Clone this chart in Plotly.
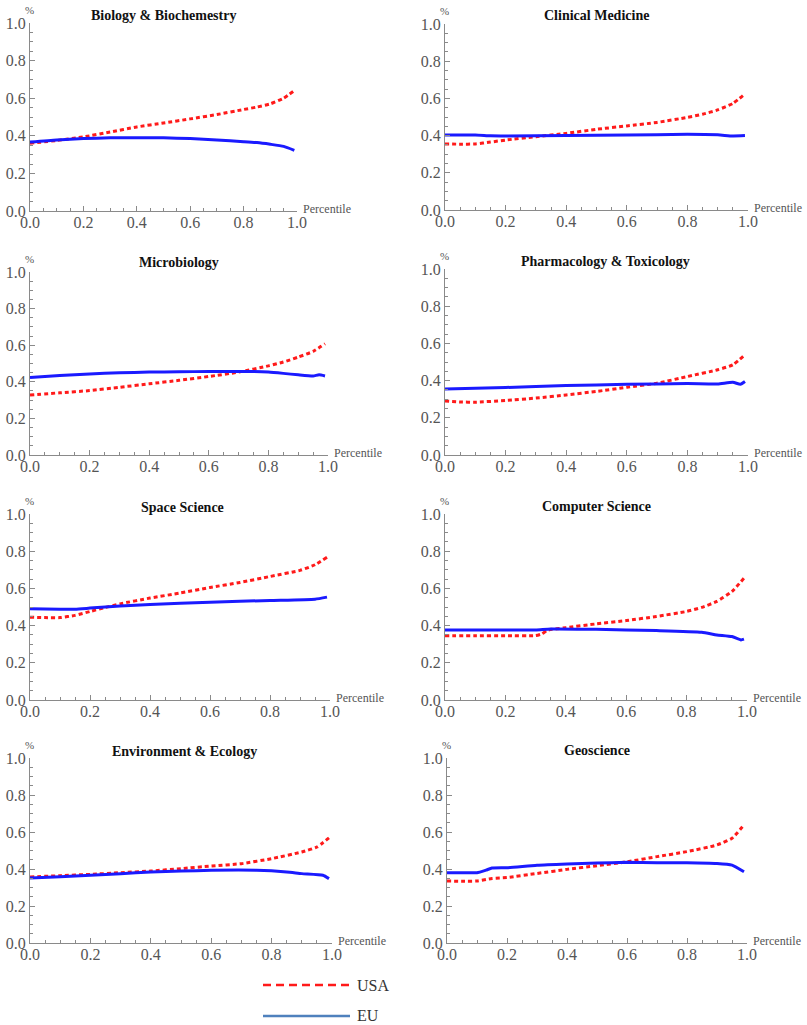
import plotly.graph_objects as go

OFF = 0  # body margin removed by post_script below
W, H = 807, 1025


def px(x):
    return (x - OFF) / W


def py(y):
    return 1 - (y - OFF) / H


titles = ["Biology & Biochemestry", "Clinical Medicine", "Microbiology",
          "Pharmacology & Toxicology", "Space Science", "Computer Science",
          "Environment & Ecology", "Geoscience"]

# ---- data (percentile -> share) ----
bio_usa_x = [0, 0.1, 0.2, 0.3, 0.4, 0.5, 0.6, 0.7, 0.8, 0.85, 0.9, 0.95, 0.99]
bio_usa_y = [0.36, 0.375, 0.394, 0.42, 0.447, 0.468, 0.49, 0.513, 0.54, 0.553, 0.57, 0.6, 0.64]
bio_eu_x = [0, 0.1, 0.2, 0.3, 0.4, 0.5, 0.6, 0.7, 0.8, 0.85, 0.9, 0.95, 0.99]
bio_eu_y = [0.367, 0.378, 0.385, 0.389, 0.39, 0.389, 0.385, 0.378, 0.369, 0.364, 0.355, 0.344, 0.323]

clin_usa_x = [0, 0.05, 0.1, 0.15, 0.2, 0.3, 0.4, 0.5, 0.6, 0.7, 0.8, 0.85, 0.9, 0.95, 0.99]
clin_usa_y = [0.355, 0.354, 0.355, 0.365, 0.376, 0.394, 0.412, 0.434, 0.452, 0.471, 0.498, 0.515, 0.538, 0.573, 0.624]
clin_eu_x = [0, 0.1, 0.15, 0.2, 0.4, 0.6, 0.8, 0.9, 0.95, 0.99]
clin_eu_y = [0.403, 0.403, 0.399, 0.398, 0.4, 0.403, 0.407, 0.404, 0.398, 0.4]

micro_usa_x = [0, 0.1, 0.2, 0.3, 0.4, 0.5, 0.6, 0.7, 0.8, 0.85, 0.9, 0.95, 0.99]
micro_usa_y = [0.328, 0.34, 0.352, 0.37, 0.389, 0.408, 0.429, 0.453, 0.487, 0.508, 0.535, 0.566, 0.608]
micro_eu_x = [0, 0.1, 0.2, 0.3, 0.4, 0.5, 0.6, 0.7, 0.75, 0.8, 0.85, 0.9, 0.95, 0.97, 0.99]
micro_eu_y = [0.423, 0.434, 0.443, 0.449, 0.453, 0.455, 0.456, 0.456, 0.456, 0.453, 0.446, 0.438, 0.432, 0.438, 0.432]

pharm_usa_x = [0, 0.05, 0.1, 0.2, 0.3, 0.4, 0.5, 0.6, 0.7, 0.8, 0.9, 0.95, 0.99]
pharm_usa_y = [0.29, 0.285, 0.284, 0.293, 0.306, 0.323, 0.342, 0.364, 0.386, 0.422, 0.458, 0.485, 0.539]
pharm_eu_x = [0, 0.2, 0.4, 0.6, 0.8, 0.9, 0.95, 0.975, 0.99]
pharm_eu_y = [0.355, 0.363, 0.373, 0.38, 0.384, 0.382, 0.391, 0.38, 0.395]

space_usa_x = [0, 0.05, 0.1, 0.15, 0.2, 0.25, 0.3, 0.4, 0.5, 0.6, 0.7, 0.8, 0.9, 0.95, 0.99]
space_usa_y = [0.445, 0.443, 0.443, 0.455, 0.476, 0.497, 0.517, 0.548, 0.575, 0.605, 0.632, 0.664, 0.697, 0.727, 0.768]
space_eu_x = [0, 0.1, 0.15, 0.2, 0.3, 0.4, 0.6, 0.8, 0.95, 0.99]
space_eu_y = [0.49, 0.488, 0.488, 0.494, 0.506, 0.513, 0.526, 0.535, 0.542, 0.553]

comp_usa_x = [0, 0.1, 0.2, 0.3, 0.32, 0.34, 0.4, 0.5, 0.6, 0.7, 0.8, 0.85, 0.9, 0.95, 0.99]
comp_usa_y = [0.346, 0.346, 0.346, 0.346, 0.355, 0.375, 0.389, 0.409, 0.427, 0.449, 0.476, 0.498, 0.53, 0.583, 0.655]
comp_eu_x = [0, 0.1, 0.2, 0.3, 0.35, 0.5, 0.7, 0.85, 0.9, 0.95, 0.98, 0.99]
comp_eu_y = [0.377, 0.377, 0.377, 0.377, 0.382, 0.38, 0.373, 0.364, 0.35, 0.341, 0.323, 0.327]

env_usa_x = [0, 0.1, 0.2, 0.3, 0.4, 0.5, 0.6, 0.7, 0.8, 0.9, 0.95, 0.99]
env_usa_y = [0.357, 0.364, 0.371, 0.38, 0.389, 0.402, 0.416, 0.429, 0.456, 0.492, 0.519, 0.568]
env_eu_x = [0, 0.1, 0.2, 0.3, 0.4, 0.5, 0.6, 0.75, 0.85, 0.9, 0.97, 0.99]
env_eu_y = [0.351, 0.358, 0.366, 0.375, 0.384, 0.389, 0.393, 0.393, 0.384, 0.375, 0.366, 0.348]

geo_usa_x = [0, 0.05, 0.1, 0.15, 0.2, 0.3, 0.4, 0.5, 0.6, 0.7, 0.8, 0.9, 0.95, 0.99]
geo_usa_y = [0.335, 0.334, 0.335, 0.349, 0.354, 0.376, 0.398, 0.418, 0.439, 0.467, 0.494, 0.53, 0.566, 0.638]
geo_eu_x = [0, 0.05, 0.1, 0.13, 0.15, 0.2, 0.3, 0.4, 0.5, 0.6, 0.7, 0.8, 0.9, 0.95, 0.99]
geo_eu_y = [0.38, 0.38, 0.38, 0.394, 0.405, 0.407, 0.42, 0.427, 0.432, 0.436, 0.434, 0.434, 0.43, 0.421, 0.385]

tick_vals = [0, 0.2, 0.4, 0.6, 0.8, 1.0]
tick_text = ["0.0", "0.2", "0.4", "0.6", "0.8", "1.0"]

series = [
    (bio_usa_x, bio_usa_y, bio_eu_x, bio_eu_y),
    (clin_usa_x, clin_usa_y, clin_eu_x, clin_eu_y),
    (micro_usa_x, micro_usa_y, micro_eu_x, micro_eu_y),
    (pharm_usa_x, pharm_usa_y, pharm_eu_x, pharm_eu_y),
    (space_usa_x, space_usa_y, space_eu_x, space_eu_y),
    (comp_usa_x, comp_usa_y, comp_eu_x, comp_eu_y),
    (env_usa_x, env_usa_y, env_eu_x, env_eu_y),
    (geo_usa_x, geo_usa_y, geo_eu_x, geo_eu_y),
]

# ---- layout geometry (reference pixels): x0, x1, ytop, ybottom ----
boxes = [
    (30, 297, 23, 211), (445, 748, 24, 210),
    (30, 328, 272, 455), (445, 748, 269, 455),
    (30, 330, 514, 700), (445, 747, 514, 700),
    (30, 332, 758, 943), (447, 747, 758, 943),
]
title_pos = [(163, 15), (596, 15), (179, 262), (605, 261),
             (182, 507), (596, 506), (184, 751), (597, 750)]

FONT = "Liberation Serif"
GRAY = "#555555"
AXC = "#8a8a8a"

fig = go.Figure()
layout = dict(width=W, height=H, margin=dict(l=0, r=0, t=0, b=0, autoexpand=False),
              paper_bgcolor="white", plot_bgcolor="white", showlegend=False,
              font=dict(family=FONT, color=GRAY))
annotations = []
shapes = []

for i, ((ux, uy, ex, ey), (x0, x1, yt, yb), title, (tx, ty)) in enumerate(
        zip(series, boxes, titles, title_pos)):
    n = i + 1
    xa = "x" if n == 1 else f"x{n}"
    ya = "y" if n == 1 else f"y{n}"
    fig.add_trace(go.Scatter(x=ux, y=uy, xaxis=xa, yaxis=ya, mode="lines",
                             line=dict(color="#ff1a1a", width=3, dash="4px,3px",
                                       shape="spline", smoothing=0.5),
                             name="USA"))
    fig.add_trace(go.Scatter(x=ex, y=ey, xaxis=xa, yaxis=ya, mode="lines",
                             line=dict(color="#1a1aff", width=3,
                                       shape="spline", smoothing=0.5),
                             name="EU"))
    common = dict(range=[0, 1.0], showline=True, linecolor=AXC, linewidth=1,
                  showgrid=False, zeroline=False, ticks="inside", ticklen=5,
                  tickcolor=AXC, tickvals=tick_vals, ticktext=tick_text,
                  tickfont=dict(family=FONT, size=16, color=GRAY),
                  minor=dict(ticks="inside", dtick=0.05, ticklen=3, tickcolor=AXC),
                  fixedrange=True, automargin=False)
    layout["xaxis" if n == 1 else f"xaxis{n}"] = dict(
        domain=[px(x0), px(x1)], anchor=ya, ticklabelstandoff=-3, **common)
    layout["yaxis" if n == 1 else f"yaxis{n}"] = dict(
        domain=[py(yb), py(yt)], anchor=xa, **common)
    annotations.append(dict(text=f"<b>{title}</b>", x=px(tx), y=py(ty),
                            xref="paper", yref="paper", showarrow=False,
                            xanchor="center", yanchor="middle",
                            font=dict(family=FONT, size=14, color="#111111")))
    annotations.append(dict(text="%", x=px(x0 - 1), y=py(yt - 13),
                            xref="paper", yref="paper", showarrow=False,
                            xanchor="center", yanchor="middle",
                            font=dict(family=FONT, size=11, color=GRAY)))
    annotations.append(dict(text="Percentile", x=px(x1 + 4), y=py(yb - 2),
                            xref="paper", yref="paper", showarrow=False,
                            xanchor="left", yanchor="middle",
                            font=dict(family=FONT, size=12, color=GRAY)))

# legend drawn at bottom centre
shapes.append(dict(type="line", xref="paper", yref="paper",
                   x0=px(263), x1=px(350), y0=py(985), y1=py(985),
                   line=dict(color="#ff1a1a", width=2.5, dash="8px,5px")))
shapes.append(dict(type="line", xref="paper", yref="paper",
                   x0=px(263), x1=px(350), y0=py(1016), y1=py(1016),
                   line=dict(color="#4f81bd", width=2.5)))
annotations.append(dict(text="USA", x=px(355), y=py(985), xref="paper", yref="paper",
                        showarrow=False, xanchor="left", yanchor="middle",
                        font=dict(family=FONT, size=16, color="#333333")))
annotations.append(dict(text="EU", x=px(355), y=py(1015), xref="paper", yref="paper",
                        showarrow=False, xanchor="left", yanchor="middle",
                        font=dict(family=FONT, size=16, color="#333333")))

layout["annotations"] = annotations
layout["shapes"] = shapes
fig.update_layout(**layout)
fig.write_html("out.html",
               config={"displayModeBar": False, "staticPlot": True},
               post_script="document.body.style.margin='0';"
                           "document.body.style.overflow='hidden';")
